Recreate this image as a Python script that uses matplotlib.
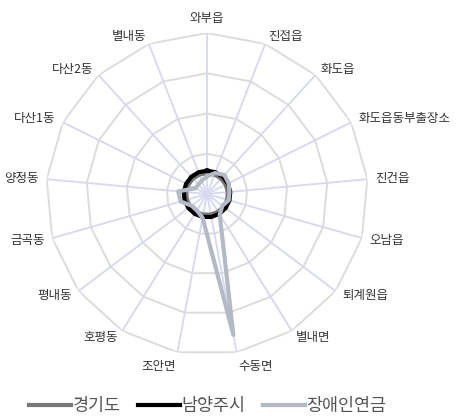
import numpy as np
import matplotlib
matplotlib.use("Agg")
import matplotlib.pyplot as plt

plt.rcParams['font.family'] = ['Noto Sans CJK KR', 'DejaVu Sans']

# 데이터
labels = ["와부읍", "진접읍", "화도읍", "화도읍동부출장소", "진건읍", "오남읍", "퇴계원읍",
          "별내면", "수동면", "조안면", "호평동", "평내동", "금곡동", "양정동",
          "다산1동", "다산2동", "별내동"]
gyeonggi = [13, 13, 13, 13, 13, 13, 13, 13, 13, 13, 13, 13, 13, 13, 13, 13, 13]
namyangju = [14.5, 14.5, 14.5, 14.5, 14.5, 14.5, 14.5, 14.5, 14.5, 14.5, 14.5, 14.5, 14.5, 14.5, 14.5, 14.5, 14.5]
pension = [11, 14, 16, 15, 14, 14, 12, 15, 89, 15, 12, 12, 17, 18, 8, 8, 9]
ring_ticks = [25, 50, 75, 100]

N = len(labels)
theta = np.linspace(0, 2*np.pi, N, endpoint=False)
theta_c = np.append(theta, theta[0])

fig = plt.figure(figsize=(4.57, 4.16), dpi=100)
ax = fig.add_axes([0.1007, 0.1466, 0.7046, 0.774], projection='polar')
ax.set_theta_zero_location('N')
ax.set_theta_direction(-1)
ax.set_ylim(0, 100)
ax.grid(False)
ax.spines['polar'].set_visible(False)
ax.set_xticks([])
ax.set_yticks([])
ax.patch.set_alpha(0)

# 격자
for r in ring_ticks:
    ax.plot(theta_c, [r]*(N+1), color='#dcdcdc', lw=1.4, zorder=1)
for t in theta:
    ax.plot([t, t], [0, 100], color='#d6d8f0', lw=1.3, zorder=1)

# 시리즈
def close(v):
    return list(v) + [v[0]]

ax.plot(theta_c, close(gyeonggi), color='#777777', lw=3, zorder=3, label='경기도')
ax.plot(theta_c, close(namyangju), color='#000000', lw=3, zorder=4, label='남양주시')
ax.plot(theta_c, close(pension), color='#b3bac6', lw=3, zorder=5, label='장애인연금')

# 라벨
for t, lab in zip(theta, labels):
    s, c = np.sin(t), np.cos(t)
    if abs(s) < 0.1:
        ha = 'center'
    elif s > 0:
        ha = 'left'
    else:
        ha = 'right'
    if c > 0.95:
        va = 'bottom'
    elif c < -0.95:
        va = 'top'
    else:
        va = 'center'
    ax.text(t, 105, lab, ha=ha, va=va, fontsize=9, color='#333333', clip_on=False)

leg = fig.legend(loc='lower center', bbox_to_anchor=(0.455, -0.035), ncol=3, frameon=False,
                 fontsize=12.5, handlelength=2.4, columnspacing=1.0, handletextpad=0.1)
for txt in leg.get_texts():
    txt.set_color('#555555')

fig.savefig('out.png', dpi=100)
